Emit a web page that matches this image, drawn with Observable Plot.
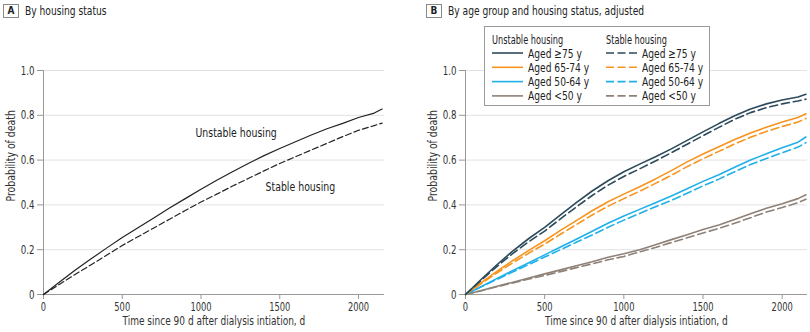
<!DOCTYPE html>
<html>
<head>
<meta charset="utf-8">
<script src="https://cdn.jsdelivr.net/npm/d3@7"></script>
<script src="https://cdn.jsdelivr.net/npm/@observablehq/plot@0.6"></script>
<style>
  html, body { margin: 0; padding: 0; background: #fff; }
  #wrap { position: relative; width: 810px; height: 332px; overflow: hidden;
          font-family: "DejaVu Sans Condensed", "Liberation Sans", sans-serif; color: #222; }
  .panel { position: absolute; top: 0; }
  .ptitle { position: absolute; top: 4px; font-size: 13px; line-height: 14px; color: #222; white-space: nowrap; }
  .pbox { display: inline-block; box-sizing: border-box; width: 16px; height: 14px; border: 1px solid #8a8a8a; font-size: 10px; font-weight: bold;
          text-align: center; line-height: 12px; vertical-align: top; }
  .ttext { display: inline-block; transform: scaleX(0.78); transform-origin: 0 50%; margin-left: 6px; vertical-align: top; }
  #legend { position: absolute; left: 484px; top: 26px; width: 226px; height: 80px; box-sizing: border-box;
            border: 1px solid #9a9a9a; background: #fff; }
  #legend svg { position: absolute; left: -1px; top: -1px; overflow: visible; }
</style>
</head>
<body>
<div id="wrap">
  <div class="ptitle" style="left:3px"><span class="pbox">A</span><span class="ttext">By housing status</span></div>
  <div class="ptitle" style="left:426px"><span class="pbox">B</span><span class="ttext">By age group and housing status, adjusted</span></div>
  <div id="panelA" class="panel" style="left:0px"></div>
  <div id="panelB" class="panel" style="left:420px"></div>
  <div id="legend"></div>
</div>
<script>
// ---- data ----
const days = [0,100,200,300,400,500,600,700,800,900,1000,1100,1200,1300,1400,1500,1600,1700,1800,1900,2000,2100,2150];

// Panel A
const unstableA = [0,0.055,0.108,0.158,0.207,0.254,0.298,0.342,0.386,0.428,0.47,0.51,0.548,0.585,0.62,0.652,0.682,0.712,0.74,0.764,0.79,0.81,0.828];
const stableA   = [0,0.045,0.089,0.132,0.175,0.219,0.258,0.297,0.336,0.375,0.413,0.448,0.484,0.518,0.552,0.585,0.615,0.645,0.675,0.705,0.733,0.754,0.765];
const curveLabelsA = ["Unstable housing", "Stable housing"];
const curveLabelX = [965, 1410];
const curveLabelY = [0.72, 0.479];

// Panel B
const ageGroups = ["Aged \u226575 y", "Aged 65-74 y", "Aged 50-64 y", "Aged <50 y"];
const housing = ["Unstable housing", "Stable housing"];
const unstable75   = [0,0.068,0.134,0.195,0.25,0.30,0.356,0.41,0.462,0.508,0.548,0.582,0.615,0.65,0.688,0.726,0.763,0.798,0.828,0.851,0.868,0.882,0.894];
const stable75     = [0,0.064,0.126,0.184,0.236,0.283,0.338,0.391,0.442,0.488,0.527,0.561,0.596,0.633,0.671,0.709,0.746,0.782,0.812,0.834,0.851,0.864,0.872];
const unstable6574 = [0,0.053,0.104,0.152,0.197,0.24,0.286,0.33,0.374,0.414,0.448,0.481,0.516,0.553,0.592,0.627,0.66,0.692,0.721,0.747,0.77,0.79,0.807];
const stable6574   = [0,0.049,0.097,0.142,0.185,0.225,0.269,0.312,0.355,0.394,0.428,0.461,0.496,0.532,0.571,0.606,0.639,0.672,0.702,0.728,0.75,0.77,0.786];
const unstable5064 = [0,0.036,0.072,0.107,0.142,0.177,0.212,0.247,0.282,0.318,0.35,0.38,0.41,0.44,0.472,0.505,0.535,0.568,0.6,0.628,0.655,0.68,0.703];
const stable5064   = [0,0.034,0.068,0.101,0.134,0.167,0.2,0.233,0.266,0.3,0.332,0.362,0.392,0.42,0.452,0.485,0.515,0.548,0.58,0.607,0.633,0.658,0.678];
const unstableLt50 = [0,0.018,0.037,0.055,0.074,0.092,0.11,0.128,0.146,0.166,0.182,0.2,0.222,0.245,0.267,0.29,0.31,0.335,0.36,0.385,0.405,0.428,0.445];
const stableLt50   = [0,0.017,0.035,0.052,0.069,0.085,0.102,0.12,0.137,0.155,0.17,0.19,0.21,0.232,0.253,0.275,0.295,0.318,0.343,0.368,0.388,0.41,0.425];

const xTicks = [0,500,1000,1500,2000];
const yTicks = [0,0.2,0.4,0.6,0.8,1.0];
const xLabel = "Time since 90 d after dialysis intiation, d";
const yLabel = "Probability of death";

// ---- styles ----
const FONT = '"DejaVu Sans Condensed", "Liberation Sans", sans-serif';
const ageColors = ["#2c4a5b", "#f7941d", "#1fb0ea", "#8e8178"];
const dashB = "8,4";
const fmtY = d => d === 0 ? "0" : d.toFixed(1);
const fmtX = d => String(d);

// squeeze SVG text horizontally (condensed face), keeping its anchor point in place
function condense(nodes, k) {
  nodes.forEach(t => {
    const L = t.getComputedTextLength();
    if (!(L > 0)) return;
    const b0 = t.getBBox();
    const anchor = getComputedStyle(t).textAnchor;
    t.setAttribute("textLength", (L * k).toFixed(2));
    t.setAttribute("lengthAdjust", "spacingAndGlyphs");
    const b1 = t.getBBox();
    let r0, r1;
    if (anchor === "middle") { r0 = b0.x + b0.width / 2; r1 = b1.x + b1.width / 2; }
    else if (anchor === "end") { r0 = b0.x + b0.width; r1 = b1.x + b1.width; }
    else { r0 = b0.x; r1 = b1.x; }
    const s = r0 - r1;
    if (Math.abs(s) > 0.05) {
      const tr = t.getAttribute("transform") || "";
      t.setAttribute("transform", (tr + " translate(" + s.toFixed(2) + ",0)").trim());
    }
  });
}

function frameMarks() {
  return [
    Plot.gridY(yTicks.filter(d => d > 0), {stroke: "#e2e2e2", strokeOpacity: 1, strokeWidth: 1}),
    Plot.axisY(yTicks, {tickSize: 6, tickPadding: 3, stroke: "#999", tickFormat: fmtY, label: null, fill: "#333", fontSize: 13}),
    Plot.axisX(xTicks, {tickSize: 5, tickPadding: 3, stroke: "#999", tickFormat: fmtX, label: null, fill: "#333", fontSize: 12.5}),
    Plot.ruleY([0], {stroke: "#999"}),
    Plot.ruleX([0], {y1: 0, y2: 1, stroke: "#999"}),
    Plot.text([yLabel], {frameAnchor: "left", rotate: -90, dx: -33, dy: 19, text: d => d, fill: "#333", fontSize: 13}),
    Plot.text([xLabel], {frameAnchor: "bottom", dy: 30.5, text: d => d, fill: "#333", fontSize: 12.5})
  ];
}

// Panel A
const dataA = [];
days.forEach((t, i) => {
  dataA.push({t, p: unstableA[i], g: "Unstable housing"});
  dataA.push({t, p: stableA[i], g: "Stable housing"});
});
const labA = curveLabelsA.map((s, i) => ({s, x: curveLabelX[i], y: curveLabelY[i]}));

const plotA = Plot.plot({
  width: 400, height: 332,
  marginLeft: 43, marginRight: 16, marginTop: 70, marginBottom: 38,
  x: {domain: [0, 2165], label: null},
  y: {domain: [0, 1], label: null},
  style: {fontFamily: FONT, fontSize: "13px", background: "transparent", overflow: "visible"},
  marks: [
    ...frameMarks(),
    Plot.line(dataA.filter(d => d.g === "Stable housing"), {x: "t", y: "p", stroke: "#222", strokeWidth: 1.2, strokeDasharray: "6,3"}),
    Plot.line(dataA.filter(d => d.g === "Unstable housing"), {x: "t", y: "p", stroke: "#222", strokeWidth: 1.2}),
    Plot.text(labA, {x: "x", y: "y", text: "s", textAnchor: "start", fill: "#222", fontSize: 13})
  ]
});
document.getElementById("panelA").appendChild(plotA);

// Panel B
const seriesB = [
  [unstable75, stable75], [unstable6574, stable6574], [unstable5064, stable5064], [unstableLt50, stableLt50]
];
const dataB = [];
seriesB.forEach((pair, gi) => {
  pair.forEach((vals, hi) => {
    days.forEach((t, i) => dataB.push({t, p: vals[i], age: ageGroups[gi], h: housing[hi]}));
  });
});
const lineMarks = [];
for (let gi = ageGroups.length - 1; gi >= 0; gi--) {
  lineMarks.push(Plot.line(dataB.filter(d => d.age === ageGroups[gi] && d.h === "Stable housing"),
    {x: "t", y: "p", stroke: ageColors[gi], strokeWidth: 1.6, strokeDasharray: dashB}));
  lineMarks.push(Plot.line(dataB.filter(d => d.age === ageGroups[gi] && d.h === "Unstable housing"),
    {x: "t", y: "p", stroke: ageColors[gi], strokeWidth: 1.6}));
}
const plotB = Plot.plot({
  width: 390, height: 332,
  marginLeft: 45, marginRight: 3, marginTop: 70, marginBottom: 38,
  x: {domain: [0, 2160], label: null},
  y: {domain: [0, 1], label: null},
  style: {fontFamily: FONT, fontSize: "13px", background: "transparent", overflow: "visible"},
  marks: [...frameMarks(), ...lineMarks]
});
document.getElementById("panelB").appendChild(plotB);

[plotA, plotB].forEach(p => {
  const tick = new Set([...p.querySelectorAll('g[aria-label="x-axis tick label"] text, g[aria-label="y-axis tick label"] text')]);
  condense([...tick], 0.74);
  condense([...p.querySelectorAll("text")].filter(t => !tick.has(t)), 0.8);
});

// Legend (SVG)
const NS = "http://www.w3.org/2000/svg";
const lsvg = document.createElementNS(NS, "svg");
lsvg.setAttribute("width", 226); lsvg.setAttribute("height", 80);
lsvg.style.fontFamily = FONT; lsvg.style.fontSize = "13px";
document.getElementById("legend").appendChild(lsvg);
const colX = [8, 122];
const lineW = 31;
const heads = [], items = [];
housing.forEach((h, hi) => {
  const head = document.createElementNS(NS, "text");
  head.setAttribute("x", colX[hi]); head.setAttribute("y", 13); head.setAttribute("dy", "0.35em");
  head.setAttribute("fill", "#222"); head.textContent = h;
  lsvg.appendChild(head); heads.push(head);
  ageGroups.forEach((a, gi) => {
    const cy = 27 + gi * 14.3;
    const ln = document.createElementNS(NS, "line");
    ln.setAttribute("x1", colX[hi]); ln.setAttribute("x2", colX[hi] + lineW);
    ln.setAttribute("y1", cy); ln.setAttribute("y2", cy);
    ln.setAttribute("stroke", ageColors[gi]); ln.setAttribute("stroke-width", 1.6);
    if (hi === 1) ln.setAttribute("stroke-dasharray", "8,3.5");
    lsvg.appendChild(ln);
    const lab = document.createElementNS(NS, "text");
    lab.setAttribute("x", colX[hi] + lineW + 5); lab.setAttribute("y", cy); lab.setAttribute("dy", "0.35em");
    lab.setAttribute("fill", "#222"); lab.textContent = a;
    lsvg.appendChild(lab); items.push(lab);
  });
});
condense(heads, 0.7);
condense(items, 0.78);
</script>
</body>
</html>
